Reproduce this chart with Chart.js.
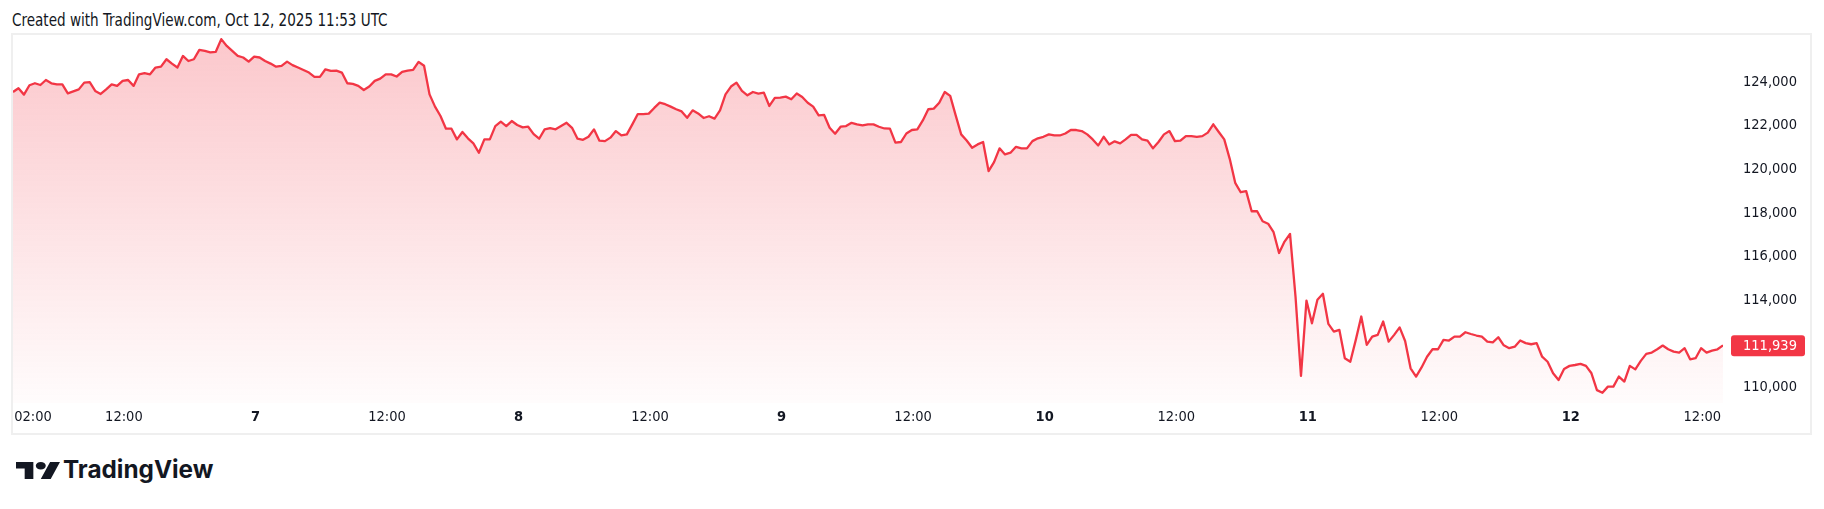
<!DOCTYPE html>
<html>
<head>
<meta charset="utf-8">
<script src="https://cdn.jsdelivr.net/npm/chart.js@4.4.1/dist/chart.umd.min.js"></script>
<style>
  html, body { margin: 0; padding: 0; background: #fff; }
  body { width: 1824px; height: 509px; position: relative; overflow: hidden;
         font-family: "DejaVu Sans Condensed", "DejaVu Sans", sans-serif; color: #131722; }
  #title { position: absolute; left: 12px; top: 10px; font-size: 17px; line-height: 20px; white-space: nowrap;
           transform: scaleX(0.886); transform-origin: 0 0; }
  #frame { position: absolute; left: 11px; top: 33px; width: 1797px; height: 398px; border: 2px solid #efefef; }
  #chart { display: block; }
  #logo { position: absolute; left: 16px; top: 462px; }
  #brand { position: absolute; left: 63px; top: 455px; font-family: Inter, sans-serif; font-weight: 700;
           font-size: 24.3px; line-height: 28px; color: #131722; white-space: nowrap; }
</style>
</head>
<body>
<div id="title">Created with TradingView.com, Oct 12, 2025 11:53 UTC</div>
<div id="frame"><canvas id="chart" width="1797" height="398"></canvas></div>
<svg id="logo" width="44" height="17" viewBox="0 4 35.5 18" preserveAspectRatio="none">
  <path fill="#131722" d="M14 22H7V11H0V4h14v18zM28 22h-8l7.5-18h8L28 22z"/>
  <circle fill="#131722" cx="20" cy="8" r="4"/>
</svg>
<div id="brand">TradingView</div>
<script>
// BTCUSD, 30 minute closes, Oct 6 01:53 -> Oct 12 13:53 (chart time, UTC+2)
const startHour = 1 + 53 / 60;   // hours after Oct 6 00:00
const stepHours = 0.5;

const prices = [
  123540, 123710, 123420, 123850, 123940, 123860, 124090, 123940, 123890, 123890,
  123480, 123570, 123660, 123970, 123990, 123590, 123450, 123660, 123890, 123820,
  124050, 124090, 123820, 124350, 124400, 124350, 124660, 124700, 125040, 124840,
  124660, 125190, 124960, 125040, 125470, 125420, 125350, 125380, 125960, 125650,
  125420, 125190, 125120, 124930, 125160, 125120, 124960, 124840, 124700, 124740,
  124930, 124770, 124660, 124550, 124430, 124230, 124230, 124580, 124510, 124520,
  124430, 123940, 123910, 123820, 123630, 123790, 124050, 124150, 124350, 124350,
  124250, 124460, 124520, 124550, 124920, 124740, 123430, 122870, 122440, 121860,
  121860,
  121370, 121710, 121420, 121190, 120760, 121370, 121370, 121980, 122180, 121980,
  122210, 122030, 121920, 121950, 121610, 121400, 121830, 121890, 121830, 121980,
  122130, 121900, 121400, 121350, 121490, 121830, 121310, 121290, 121450, 121750,
  121550, 121600, 122060, 122530, 122530, 122550, 122810, 123050, 122980, 122870,
  122750, 122650, 122360, 122700, 122560, 122350, 122430, 122320, 122700, 123430,
  123790, 123970, 123590, 123390, 123540, 123470, 123510, 122900, 123270, 123280,
  123330, 123210, 123470, 123310, 123050, 122870, 122470, 122490, 121900, 121630,
  121950, 121980, 122130, 122060, 122010, 122060, 122060, 121950,
  121870, 121860, 121220, 121250, 121640, 121800, 121830, 122240, 122750, 122780,
  123050, 123540, 123360, 122470, 121600, 121320, 120990, 121140, 121250, 119920,
  120330, 120960, 120680, 120760, 121030, 120960, 120960, 121290, 121420, 121490,
  121600, 121550, 121550, 121640, 121800, 121800, 121750, 121600, 121370, 121090,
  121490, 121140, 121280, 121190, 121370, 121580, 121580, 121370, 121310, 120960,
  121250, 121600, 121750, 121290, 121310, 121520, 121520, 121490, 121520, 121680,
  122060, 121710, 121370, 120480, 119380, 118950, 119000, 118080, 118080, 117620,
  117510, 117120, 116170, 116690, 117040, 114180, 110540, 113990,
  112950, 114030, 114300, 112920, 112570, 112650, 111350, 111190, 112190, 113260,
  111960, 112340, 112420, 113030, 112110, 112420, 112760, 112140, 110890, 110510,
  110930, 111420, 111760, 111760, 112190, 112160, 112340, 112340, 112540, 112460,
  112390, 112340, 112110, 112080, 112310, 111940, 111810, 111880, 112160, 112040,
  111990, 112040, 111420, 111190, 110660, 110350, 110860, 111000, 111040, 111090,
  111000, 110660, 109890, 109770, 110050, 110050, 110510, 110280, 111000, 110840,
  111230, 111550, 111610, 111760, 111930, 111760, 111650, 111610, 111810, 111300,
  111350, 111810, 111610, 111700, 111760, 111939
];

// time axis ticks (hours after Oct 6 00:00)
const timeTickHours = [2, 12, 24, 36, 48, 60, 72, 84, 96, 108, 120, 132, 144, 156];
const timeTickLabels = ["02:00", "12:00", "7", "12:00", "8", "12:00", "9", "12:00",
                        "10", "12:00", "11", "12:00", "12", "12:00"];

// price axis ticks (112,000 hidden behind the last price label)
const priceTicks = [110000, 114000, 116000, 118000, 120000, 122000, 124000];
const priceMin = 109300;
const priceMax = 126150;

const RED = "#f23645";
const FONT = '"DejaVu Sans Condensed", "DejaVu Sans", sans-serif';

const points = prices.map((p, i) => ({ x: startHour + i * stepHours, y: p }));

// last price badge on the price scale
const lastPriceBadge = {
    id: "lastPriceBadge",
    afterDraw(chart) {
        const last = prices[prices.length - 1];
        const area = chart.chartArea;
        const y = chart.scales.y.getPixelForValue(last);
        const c = chart.ctx;
        c.save();
        c.fillStyle = RED;
        c.beginPath();
        c.roundRect(area.right + 8, y - 10, 74, 21, 3);
        c.fill();
        c.fillStyle = "#ffffff";
        c.font = "14.5px " + FONT;
        c.textAlign = "left";
        c.textBaseline = "middle";
        c.fillText(last.toLocaleString("en-US"), area.right + 20, y + 1);
        c.restore();
    }
};

const ctx = document.getElementById("chart").getContext("2d");

const priceChart = new Chart(ctx, {
    type: "line",
    data: {
        datasets: [{
            data: points,
            borderColor: RED,
            borderWidth: 2.3,
            borderJoinStyle: "round",
            pointRadius: 0,
            tension: 0,
            fill: "start",
            backgroundColor: (context) => {
                const area = context.chart.chartArea;
                if (!area) return "rgba(242,54,69,0.2)";
                const g = context.chart.ctx.createLinearGradient(0, area.top, 0, area.bottom);
                g.addColorStop(0, "rgba(242,54,69,0.28)");
                g.addColorStop(1, "rgba(242,54,69,0.015)");
                return g;
            }
        }]
    },
    options: {
        responsive: false,
        animation: false,
        devicePixelRatio: 1,
        layout: { padding: 0 },
        plugins: { legend: { display: false }, tooltip: { enabled: false } },
        scales: {
            x: {
                type: "linear",
                min: startHour,
                max: startHour + (prices.length - 1) * stepHours,
                grid: { display: false, drawTicks: false },
                border: { display: false },
                afterBuildTicks: (scale) => {
                    scale.ticks = timeTickHours.map(v => ({ value: v })).concat([{ value: scale.max }]);
                },
                afterFit: (scale) => {
                    scale.height = 30;
                    scale.paddingLeft = 0;
                    scale.paddingRight = 0;
                },
                ticks: {
                    autoSkip: false,
                    maxRotation: 0,
                    align: "inner",
                    padding: 6,
                    color: "#131722",
                    font: (c) => ({
                        family: FONT,
                        size: 14.5,
                        weight: /^\d+$/.test(timeTickLabels[c.index] || "") ? "bold" : "normal"
                    }),
                    callback: (value, index) => timeTickLabels[index] || ""
                }
            },
            y: {
                position: "right",
                min: priceMin,
                max: priceMax,
                grid: { display: false, drawTicks: false },
                border: { display: false },
                afterBuildTicks: (scale) => {
                    scale.ticks = priceTicks.map(v => ({ value: v }));
                },
                afterFit: (scale) => {
                    scale.width = 87;
                    scale.paddingTop = 0;
                    scale.paddingBottom = 0;
                },
                ticks: {
                    padding: 20,
                    color: "#131722",
                    font: { family: FONT, size: 14.5 },
                    callback: (value) => value.toLocaleString("en-US")
                }
            }
        }
    },
    plugins: [lastPriceBadge]
});
</script>
</body>
</html>
